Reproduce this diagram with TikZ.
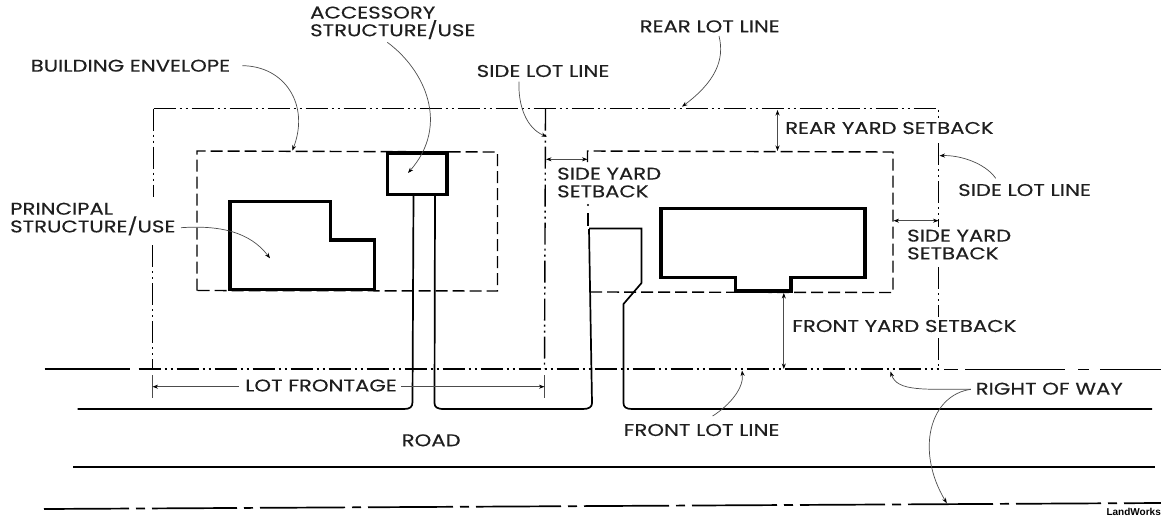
\documentclass[tikz,border=0pt]{standalone}
\usepackage{fontspec}
\setmainfont[FakeStretch=1.25,FakeBold=0.3]{Poppins}
\newfontfamily\credit{Liberation Sans}
\usetikzlibrary{arrows.meta}
\tikzset{
  x=1pt,y=-1pt,
  lbl/.style={font=\fontsize{17}{17.7}\selectfont,text=black!88,inner sep=0pt,align=left,anchor=west},
  lot/.style={line width=1.4pt,black,dash pattern=on 22pt off 4pt on 2pt off 4pt on 2pt off 4pt},
  env/.style={line width=1.4pt,black,dash pattern=on 12pt off 5pt},
  bldg/.style={line width=3.5pt,black,miter limit=10},
  drive/.style={line width=1.7pt,black},
  road/.style={line width=1.7pt,black},
  row/.style={line width=1.7pt,black},
  lead/.style={line width=.7pt,black!70,-{Stealth[length=5.5pt,width=4pt,black]}},
  dim/.style={line width=.7pt,black!70,{Stealth[length=5.5pt,width=4pt,black]}-{Stealth[length=5.5pt,width=4pt,black]}},
  ext/.style={line width=.7pt,black!70}
}
\begin{document}
\begin{tikzpicture}
\useasboundingbox (0,0) rectangle (1161,517);
% lot corners
\coordinate (lotTL) at (153.5,108.5);
\coordinate (lotTM) at (545.5,108.5);
\coordinate (lotTR) at (938.5,108.5);
\coordinate (lotBL) at (152.5,369);
\coordinate (lotBM) at (544.5,369);
\coordinate (lotBR) at (938.5,369);
% lot lines
\draw[lot] (lotTL) -- (lotTR) -- (938.5,118);
\draw[lot] (938.5,143) -- (938.5,227);
\draw[lot] (938.5,267) -- (938.5,317);
\draw[lot] (938.5,338) -- (lotBR);
\draw[lot] (lotTL) -- (153.5,197);
\draw[lot] (152.5,245) -- (lotBL);
\draw[lot] (lotTM) -- (lotBM);
% street lines
\draw[lot] (138.5,369) -- (lotBR);
\draw[row] (44.5,369) -- (129.5,369);
\draw[row] (944,369.5) -- (958,369.5);
\draw[row] (965,369.5) -- (1065,369.5);
\draw[row] (1078,369.5) -- (1089,369.5);
\draw[row] (1100,369.5) -- (1161,369.5);
% envelopes
\draw[env] (197,290.5) -- (197,151) -- (497.5,152) -- (497.5,291) -- cycle;
\draw[env] (587.5,162) -- (587.5,151) -- (893,152) -- (893,292.5) -- (591,292);
\fill (588,205) circle (1.2pt);
\draw[line width=1.4pt] (588,213) -- (588,226);
% buildings
\draw[bldg] (230,201.5) -- (330.5,201.5) -- (330.5,240) -- (374.5,240) -- (374.5,289.5) -- (230,289.5) -- cycle;
\draw[bldg] (661,208.5) -- (865,208.5) -- (865,277.5) -- (791,277.5) -- (791,291) -- (735.5,291) -- (735.5,277.5) -- (661,277.5) -- cycle;
\draw[bldg] (387.5,153) -- (447,153) -- (447,194.5) -- (387.5,194.5) -- cycle;
% driveways and road edges
\draw[drive] (413.5,195) -- (412.5,402) .. controls (412.5,407) and (410,409) .. (404,409) -- (77.5,409);
\draw[drive] (435,195) -- (434.5,403) .. controls (434.5,407) and (437,409) .. (444,409) -- (583,409) .. controls (589,409) and (592,407) .. (592,403) -- (589,229);
\draw[drive] (589,228.5) -- (641.5,228.5) -- (641.5,283) -- (623.5,304) -- (623.5,403) .. controls (623.5,407) and (626,409) .. (632,409) -- (1152,409);
\draw[road] (73,467) -- (1155,467);
% bottom line
\draw[row,dash pattern=on 85pt off 7pt on 9pt off 7pt] (44,509) -- (1161,503);
% labels
\node[lbl] (acc) at (310,22.8) {ACCESSORY\\STRUCTURE/USE};
\node[lbl] (be) at (30.5,65.7) {BUILDING ENVELOPE};
\node[lbl] (sl1) at (476.5,71) {SIDE LOT LINE};
\node[lbl] (rl) at (639.5,26.3) {REAR LOT LINE};
\node[lbl] (ry) at (785,128) {REAR YARD SETBACK};
\node[lbl] (sya) at (557,182.5) {SIDE YARD\\SETBACK};
\node[lbl] (sl2) at (958,190) {SIDE LOT LINE};
\node[lbl] (syb) at (907,244.5) {SIDE YARD\\SETBACK};
\node[lbl] (ps) at (10,219) {PRINCIPAL\\STRUCTURE/USE};
\node[lbl] (fy) at (792,326) {FRONT YARD SETBACK};
\node[lbl] (rw) at (975.5,388.7) {RIGHT OF WAY};
\node[lbl] (fl) at (623.5,430) {FRONT LOT LINE};
\node[lbl] (rd) at (401.5,440.3) {ROAD};
\node[lbl] (lf) at (245,385.5) {LOT FRONTAGE};
\node[font=\credit\bfseries\fontsize{10}{10}\selectfont,inner sep=0pt,anchor=east] (lw) at (1161,511.5) {LandWorks};
% dimensions
\draw[ext] (152.5,375) -- (152.5,398);
\draw[ext] (544.5,375) -- (544.5,398);
\coordinate (fL) at (152.5,386.7);
\coordinate (fR) at (544.5,386.7);
\coordinate (fa) at (239,386.7);
\coordinate (fb) at (401,386.7);
\draw[lead] (fa) -- (fL);
\draw[lead] (fb) -- (fR);
\coordinate (ry1) at (777.5,110);
\coordinate (ry2) at (777.5,151);
\draw[dim] (ry1) -- (ry2);
\coordinate (sy1) at (546,159.3);
\coordinate (sy2) at (587.5,159.3);
\draw[dim] (sy1) -- (sy2);
\coordinate (sr1) at (893.5,220.7);
\coordinate (sr2) at (938.5,220.7);
\draw[dim] (sr1) -- (sr2);
\coordinate (fy1) at (783.8,293);
\coordinate (fy2) at (783.8,369);
\draw[dim] (fy1) -- (fy2);
% leaders
\coordinate (a1) at (292.3,150.7);
\coordinate (s1) at (242.3,65.7);
\draw[lead] (s1) .. controls (285,66) and (310,105) .. (a1);
\coordinate (s2) at (387.3,42.3);
\coordinate (a2) at (408,173);
\draw[lead] (s2) .. controls (425,70) and (450,125) .. (a2);
\coordinate (s3) at (519,81.7);
\coordinate (a3) at (546.8,136.7);
\draw[lead] (s3) .. controls (518,105) and (526,128) .. (a3);
\coordinate (s4) at (719,36);
\coordinate (a4) at (682,106.7);
\draw[lead] (s4) .. controls (725,60) and (715,82) .. (a4);
\coordinate (s5) at (995.7,178.3);
\coordinate (a5) at (939.5,155.7);
\draw[lead] (s5) .. controls (985,163) and (960,155) .. (a5);
\coordinate (s6) at (181,227.7);
\coordinate (a6) at (270,258.3);
\draw[lead] (s6) .. controls (220,225) and (250,232) .. (a6);
\coordinate (s7) at (712.6,416);
\coordinate (a7) at (742,370.5);
\draw[lead] (s7) .. controls (730,405) and (744,388) .. (a7);
\coordinate (s8) at (970.9,389.3);
\coordinate (a8) at (890.5,371.5);
\draw[lead] (s8) .. controls (925,389) and (897,392) .. (a8);
\coordinate (a9) at (946.8,503.3);
\draw[lead] (s8) .. controls (930,395) and (915,450) .. (a9);
\end{tikzpicture}
\end{document}
